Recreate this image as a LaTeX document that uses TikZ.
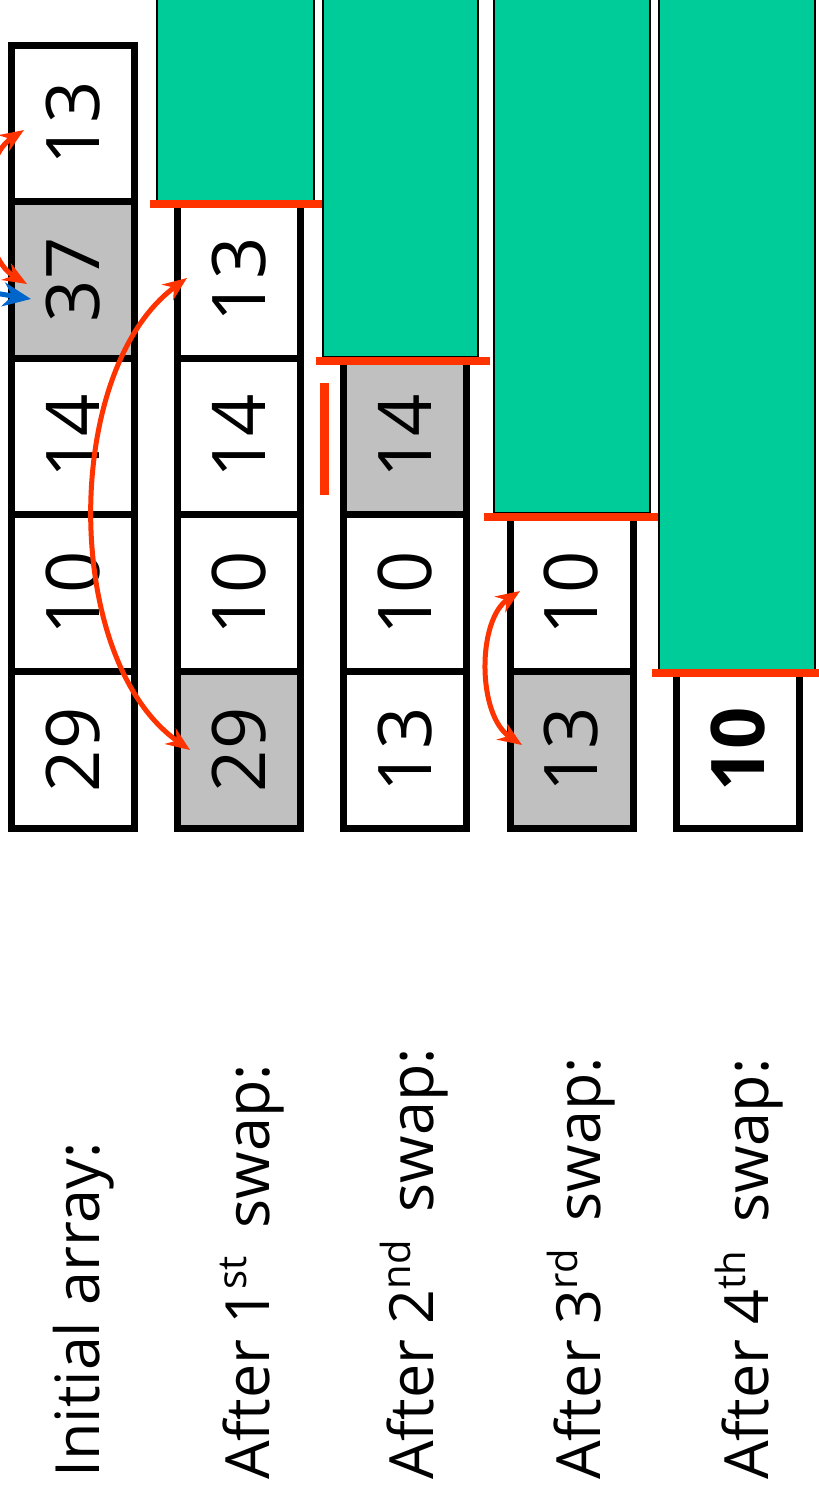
\documentclass[tikz,border=0pt]{standalone}
\usepackage{fontspec}
\setmainfont{Open Sans}
\usetikzlibrary{arrows.meta}
\definecolor{swapred}{RGB}{255,51,0}
\definecolor{ptrblue}{RGB}{0,102,204}
\definecolor{sortgreen}{RGB}{0,204,153}
\definecolor{cellgray}{RGB}{192,192,192}
\newcommand{\ordsup}[1]{\raisebox{23pt}{\fontsize{40}{40}\selectfont #1}\hspace{12pt}}
\begin{document}
\begin{tikzpicture}[x=1pt,y=-1pt,
  cell/.style={draw=black, line width=7pt, minimum width=156.6pt, minimum height=123pt,
    inner sep=0pt, fill=white, rotate=90, font=\fontsize{74}{80}\selectfont},
  grey/.style={fill=cellgray},
  lab/.style={rotate=90, anchor=base west, inner sep=0pt, font=\fontsize{61}{70}\selectfont},
  bar/.style={draw=black, line width=2pt, fill=sortgreen},
  redline/.style={draw=swapred, line width=8pt},
  swaparrow/.style={draw=swapred, line width=5pt, {Stealth[length=24pt,width=19pt]}-{Stealth[length=24pt,width=19pt]}},
  ptrarrow/.style={draw=ptrblue, line width=5pt, -{Stealth[length=28pt,width=24pt]}}
]
\useasboundingbox[fill=white] (0,0) rectangle (819,1492);

% labels
\node[lab] (l1) at (99,1478) {Initial array:};
\node[lab] (l2) at (269,1480) {After 1\ordsup{st} swap:};
\node[lab] (l3) at (433,1480) {After 2\ordsup{nd} swap:};
\node[lab] (l4) at (600,1480) {After 3\ordsup{rd} swap:};
\node[lab] (l5) at (768,1480) {After 4\ordsup{th} swap:};

% strip 1
\node[cell] (s1a) at (73,123.3) {13};
\node[cell,grey] (s1b) at (73,279.9) {37};
\node[cell] (s1c) at (73,436.5) {14};
\node[cell] (s1d) at (73,593.1) {10};
\node[cell] (s1e) at (73,749.7) {29};
% strip 2
\node[cell] (s2b) at (239,279.9) {13};
\node[cell] (s2c) at (239,436.5) {14};
\node[cell] (s2d) at (239,593.1) {10};
\node[cell,grey] (s2e) at (239,749.7) {29};
% strip 3
\node[cell,grey] (s3c) at (405,436.5) {14};
\node[cell] (s3d) at (405,593.1) {10};
\node[cell] (s3e) at (405,749.7) {13};
% strip 4
\node[cell] (s4d) at (571.5,593.1) {10};
\node[cell,grey] (s4e) at (571.5,749.7) {13};
% strip 5
\node[cell] (s5e) at (737.6,749.7) {\bfseries 10};

% sorted bars
\draw[bar] (157,-5) rectangle (314,202);
\draw[bar] (323,-5) rectangle (478,357);
\draw[bar] (494,-5) rectangle (650,513);
\draw[bar] (659,-5) rectangle (815,671);

% boundary lines
\draw[redline] (150,204) -- (322,204);
\draw[redline] (316,361) -- (490,361);
\draw[redline] (484,516.5) -- (658,516.5);
\draw[redline] (652,673) -- (825,673);
\draw[draw=swapred, line width=9pt] (324.5,383) -- (324.5,495);

% arrows
\coordinate (p0) at (-30,289);
\coordinate (p1) at (31,299);
\draw[ptrarrow] (p0) -- (p1);

\coordinate (a1) at (24,130);
\coordinate (a2) at (27,284);
\draw[swaparrow] (a1) .. controls (-22,160) and (-22,255) .. (a2);

\coordinate (b1) at (187,278);
\coordinate (b2) at (190,750);
\draw[swaparrow] (b1) .. controls (62,370) and (62,660) .. (b2);

\coordinate (c1) at (520,591);
\coordinate (c2) at (522,745);
\draw[swaparrow] (c1) .. controls (477,620) and (477,715) .. (c2);
\end{tikzpicture}
\end{document}
